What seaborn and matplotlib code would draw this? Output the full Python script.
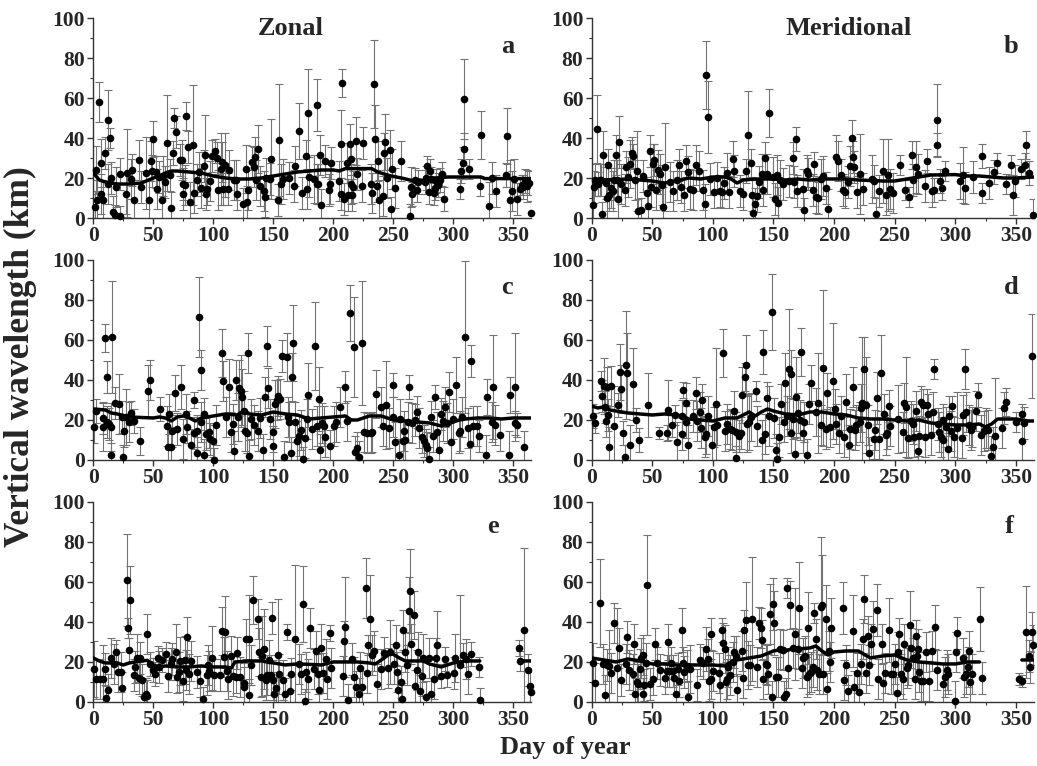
import numpy as np
import pandas as pd
import matplotlib
matplotlib.use('Agg')
import matplotlib.pyplot as plt
from matplotlib.ticker import MultipleLocator
import seaborn as sns

sns.set_style('ticks')
plt.rcParams['font.family'] = ['Liberation Serif', 'DejaVu Serif']
plt.rcParams['font.weight'] = 'bold'

# (day, wavelength km, error km)
zonal_a = [(1,5.5,8),(2,24,12),(3,9,10),(5,58,10),(6,12,10),(6.5,27.5,12),(8,9,10),(10,32.5,8),(12,49,15),(14,40,5),(12.5,17,10),(15,20,8),(16,3,8),(18,1.3,5),(19,15.5,10),(22,22,8),(22.5,1,5),(27,12,10),(28,22.5,22),(31,19.5,10),(32,24,8),(34,9,10),(38,29,10),(40,15.5,8),(44,22.5,18),(46,9,10),(48,28.5,10),(50,39.5,9),(49,23.5,8),(52,23,8),(53,14.7,10),(55,20.5,8),(57,9,10),(58,21,10),(60,18,8),(61,37.5,24),(64,21.3,8),(65,5,8),(66,32.7,6),(67,50,5),(69,43,8),(72,29,8),(74,29,10),(74.5,12,8),(75,17,8),(76,16.3,10),(77,50.8,7),(79,35.5,8),(80.5,8,10),(83,36.7,30),(84,12.7,10),(86,18.8,8),(88,23,10),(90,15,10),(92,26,8),(93,31.3,20),(94,12.2,8),(95,14.7,8),(97,18.3,10),(99,31,8),(101,33.3,6),(103,30,8),(104,14.2,10),(106,24.7,18),(107,28,10),(108,14.7,8),(110,26.7,16),(112,14.7,8),(113,23.8,10),(117,18.8,10),(119,19.2,10),(120,12.2,8),(125,7.2,8),(127,24.3,12),(128,8,8),(128.5,14.2,10),(132,28,8),(134,25.5,10),(135,30.5,10),(137,34.3,12),(135.5,18.8,10),(139,15.8,10),(142,13.3,10),(143,10.5,10),(144,20,10),(147,19.7,8),(148,29.5,20),(154,9.2,8),(155,39,28),(156,16.8,10),(158,19.7,10),(163,20.2,8),(167,15.8,8),(168,26,10),(171,43.3,14),(174,12.5,8),(177,31,8),(178,14.7,10),(179,52.7,22),(180,20.5,10),(184,19.7,12),(186,17.2,10),(186.5,56.3,13),(187,17.2,10),(190,6.3,8),(189,31.7,10),(193,28.5,8),(196,13.8,8),(197,16.8,10),(198,27.5,8),(205,18.3,10),(206,12.2,8),(207,67.7,7),(206.5,36.8,17),(209,9.7,8),(211,27.7,10),(212,11.3,8),
           (214,37,10),(215,29.7,8),(214.5,17,10),(216.7,15.5,8),(215.5,11.3,8),(219,38.3,12),(220,21.8,8),(223.5,15.8,8),(224.4,37.7,8),(231,17.2,10),(232.4,12.7,10),(233.8,67.2,22),(235,39.3,17),(237.3,28.3,10),(236.5,16,8),(238,9.2,10),(241.5,10.8,10),(242.3,32.3,10),(243.4,38,14),(245,20,10),(247,33.8,10),(248,4.3,6),(249.2,24.3,10),(251,15,10),(256.7,28.3,10),(263.5,0.8,6),(265,15.5,10),(265.8,12.2,6),(267.7,19.2,6),(269.6,14.2,6),(270.5,18,6),(276,18,6),(277.4,20.2,6),(278.2,26,5),(279.3,13,6),(280.7,23.3,6),(281.5,19.7,6),(283.7,12.5,6),(285,15,6),(285.6,18.3,6),(287,16.3,6),(289.2,18.8,6),(290.3,22.2,6),(292.5,9.7,6),(305.5,14.7,5),(306.3,23.5,6),(307.7,27.5,8),(308.5,59.7,20),(309,34.7,8),(313,24.7,5),(322.3,15.8,5),(323.4,41.3,12),(329.3,5.8,12),(332.6,20.2,8),(335.3,13.5,8),(343.6,21.3,6),(345,40.8,14),(347.2,8.8,20),(349,13.3,10),(350.5,19.7,10),(352.7,9.3,8),(355.5,14.7,5),(356.8,16.7,5),(358.2,15.5,6),(359.6,18.3,6),(361.5,16,8),(363,17.5,6),(365,2.5,6)]

merid_b = [(1.4,6.7,10),(2,15.5,8),(2.7,18.8,8),(4.7,44.3,17),(5.5,17.2,6),(7,18.8,8),(8,18.8,8),(8.8,1.8,6),(9.6,31.7,12),(11.5,17.7,8),(12.4,10,10),(13.7,26.3,8),(14.6,11.3,8),(15.7,15,10),(17.3,13.3,10),(18.4,19.2,10),(19.8,31.3,10),(20.6,18.8,10),(22,9.7,10),(22.8,38,13),(24,17.2,10),(27.5,13.8,8),(28.3,25.5,8),(30,20.5,10),(31.6,27.2,12),(33,32.5,8),(34.4,31,6),(35.7,18.8,10),(37.7,23.3,20),(38.5,3.5,6),(41,4.2,6),(42.6,20.8,8),(45.4,12.5,8),(46.7,6,8),(48,33.3,8),(48.7,15.5,10),(50.3,26.8,10),(51.4,29.2,8),(53,13.8,10),(55,24.2,10),(56.4,21.8,10),(57.7,16.3,10),(59,5.5,10),(60.5,25.5,22),(64.6,18,10),(66.8,13.5,10),(70,18.8,10),(72.3,26.7,8),(73.4,15.5,8),(76.4,11.3,8),(77.8,28.3,8),(79.7,23,8),(81,14.7,10),(83.9,13.8,10),(86,26.3,10),(88.5,23.3,10),(91.6,13.8,10),(93.5,7.2,10),(94.3,71.3,17),(95.7,50.5,18),(97.6,19.7,8),(101,13,8),(103,20.2,8),(105.9,13.3,8),(107.8,13,8),(109.4,17.7,8),(111.4,22.7,10),(113.6,13,8),(116.9,29.7,9),(117.7,23.3,8),(122.4,13.5,8),(124.6,11.8,8),(127.3,23.5,6),(129.2,41.3,22),(131.4,27.5,7),(132.5,11.7,8),(133.4,2.5,8),(134.7,7.2,8),(136.7,10.8,8),(138.3,18,8),(140.2,22.2,10),(141.6,13.8,8),(143,30,8),(144.9,21.8,10),(146.5,52.5,12),(149.8,20.5,10),(151.2,9.7,8),(152.6,21.3,10),(154,7.5,8),(155.3,18.8,10),(157.5,17.2,8),(163,18.3,8),(165.8,30,8),(166.9,18,8),(168.5,39.7,6),(169.6,13.5,8),(174,14.7,10),(175.4,3.8,6),(177.3,23.5,8),(178.7,21.8,8),(182.8,14.2,8),(183.7,26.8,6),(185,10.5,8),(187,10.2,8),(189.2,19.7,10),(191.1,21,10),(193.3,15,8),(195.2,4.3,10),(202,30.5,11),(203.5,28.3,10),(205.4,21.3,8),(207.6,14.2,8),(209,13,8),(211.7,18,8),(213,26,10),(215,40,9),(215.8,30.5,8),(216.7,25.5,8),(218.6,13,8),(221.3,21.8,20),(223.5,14.7,8),(231,19.7,12),(232.9,18.3,8),(235,2.2,8),(237.3,13.3,8),(240.6,23.3,16),(242.8,11.7,10),(244.2,21.3,18),(246,14.7,10),(248.8,12.7,10),(254.3,26.7,5),(258.5,13.8,5),(262,10.5,5),(264,31.3,7),(264.8,18.8,8),(268,25.5,13),(269.5,21.8,10),(275,15.8,8),(276.9,28.5,6),(280.5,13.3,8),(282.4,13.8,6),(284.6,36.7,6),(285.2,48.8,18),(287.4,18.3,6),(288.7,15,6),(291.5,23.3,5),(303.8,18.3,9),(306,21.7,14),(308,15.2,8),(314.3,20.5,8),(321.7,12.5,5),(322.5,31,6),(328,17.5,8),(331.9,23,6),(334.6,27.5,5),(342.3,17.2,5),(346.4,26.3,5),(347.7,11.7,10),(349.6,18.3,8),(354.5,24.3,5),(357.3,26.7,6),(358.6,36.7,7),(360.8,22.7,6),(364.3,1.7,8)]

zonal_c = [(0.5,16.7,8),(2,24.7,6),(8,21,8),(8.4,16.3,12),(9.8,60.8,7),(11,18.8,8),(11.8,41.7,8),(13.4,18,8),(14.6,16.3,12),(15.4,61.7,28),(14.8,2.7,6),(18.2,28.5,8),(21,28,15),(23.8,21.3,8),(24.6,1.7,6),(25.8,14.7,8),(27.5,21.7,14),(29.4,18.8,10),(31.7,23.3,6),(34.2,19.7,6),(39.2,9.7,7),(45.4,34.3,13),(47.6,40.2,10),(55.5,25.5,6),(61,17.2,10),(62.5,6.3,10),(63,23,10),(65,6.3,10),(65.8,14.7,8),(68,33.3,9),(70,15.5,8),(72.8,36.7,11),(75,10.5,10),(77,23,10),(78.4,16.7,8),(81.2,7.7,8),(83.5,30,4),(84,13.3,8),(86,3.5,8),(86.8,14.7,8),(88.2,71.7,20),(89.6,18.8,10),(89.6,45,10),(92,23,8),(92.4,2.5,8),(93.8,13,8),(96.6,14.2,8),(97.5,10.5,8),(99.4,9.7,8),(100.8,0.2,6),(102.5,17.7,10),(107,53.3,12),(107.8,39.7,10),(110.6,21.3,10),(113.4,36.3,14),(114.8,13.8,10),(116.2,18,10),(117.6,4.3,10),(118.5,40,10),(120.4,21.3,12),(121.8,36,14),(123.2,34.7,18),(123.8,31.3,14),(125.2,24.3,10),(126.6,14.7,10),(128,13.3,10),(128.8,53.5,10),(129.7,2.2,8),(131.7,20.5,10),(133.9,17.5,10),(137.3,14.7,10),(138.7,20.8,10),(141.5,5,8),(142.9,31.7,10),(145.1,57.2,10),(145.7,36,10),(147,20.5,10),(149.3,13.8,10),(150.1,7.2,10),(151.3,28,12),(152.7,30,10),(154,32.2,10),(155.5,30.5,10),(157.4,52.2,8),(159,1.3,8),(161,51.3,12),(162,21.3,10),(163.3,18.8,10),(164.7,3.3,8),(165.3,41.7,12),(166,58.3,19),(168,18.8,10),(169.5,9.3,10),(171.4,12.2,10),(173,15,10),(175,0.5,6),(176.5,11,10),(178,20.5,10),(178.7,32.5,16),(182,15.5,10),(185,57.2,22),(186.3,17.2,10),(187.7,30.5,16),(189,5,8),(190.5,18.3,10),(191.9,17.2,10),(193.3,11.3,10),(197.5,7.2,8),(200.3,17.2,10),(202.2,18.8,10),(205.3,26.3,10),(209.5,36.7,8),(211.5,19.7,10),(213.7,73.3,14),(217,56.7,25),(218,4.2,8),(220,6,8),(221.3,1.7,8),(224,58.3,31),(225.5,13.8,10),(228.3,13.3,10),(231,13.3,10),(232.5,13.8,10),(235.8,33,12),(239.5,26.3,10),(241,17.2,10),(243.7,27.5,22),(246,15.8,10),(249.3,21.3,10),(250,37.7,6),(251.5,8.8,10),(254.3,2.7,8),(255.7,20.5,10),(257.7,9.7,10),(259,14.7,10),(260,10,10),(262,18.8,10),(263.3,36.3,6),(265.5,18.3,10),(268.3,20,8),(269.5,23.8,8),(271.7,15.8,10),(274,11.7,8),(275.4,9.7,8),(276.8,7.5,8),(278.2,6,8),(280,0.5,6),(281.5,21.7,8),(282.9,12.2,8),(285,31.3,6),(286.6,14.2,10),(288,5,10),(290,23,8),(291.3,19.7,10),(292.7,26.3,10),(294.7,18.3,10),(296.4,34.2,10),(297.8,8.8,10),(299.7,20.5,10),(302.5,37.5,14),(304.8,13.3,10),(305.9,14.3,10),(307.6,21.3,10),(309.5,61.7,38),(312.3,15.8,10),(313.7,8,8),(315.1,49.7,8),(316.5,17.2,10),(319.3,17.2,10),(321.6,12.2,8),(327.2,2.7,10),(327.7,31.7,9),(331.9,18.8,10),(332.8,36.3,26),(334.7,17.5,10),(339,12.5,8),(346,2.7,12),(347.5,32.5,9),(351,36.3,27),(351.5,18.3,6),(353,17.5,6),(358.5,6.7,8)]

merid_d = [(0.8,21.8,6),(2.7,18.3,5),(7.7,39.3,5),(8.8,32.2,8),(10.2,36.8,14),(11,26.3,8),(11.8,19.7,8),(12.9,36.3,10),(13.7,22.7,8),(14.5,6.3,10),(15.6,36.8,10),(18.7,17.2,20),(21.4,27.5,6),(23.3,44.2,14),(24.2,35.5,12),(25.5,13.5,6),(27.4,1.3,6),(28.3,47.7,27),(29.4,43.3,20),(31.6,7.7,10),(33.8,38,18),(36.5,20,6),(39.3,10.2,6),(46.7,27.5,16),(55.7,13.5,3),(61.8,13.5,4),(63.1,25,15),(65.9,17.7,6),(68.6,22.7,5),(70.5,9.2,10),(74.1,21.8,8),(74.7,13,8),(75.5,35,4),(77.7,28.3,10),(77.7,18.8,8),(79.6,7.7,10),(83.7,22.2,8),(85.9,33.5,8),(87,19.7,10),(89.2,23.8,10),(90.6,15.8,10),(91.4,30.2,8),(93.3,11.3,10),(94.7,13,10),(96,21.8,10),(99.6,7.7,10),(101,16.3,10),(102.4,28,28),(103.8,17.7,10),(108.4,53.3,12),(109.8,14.3,10),(112,18,10),(113.9,15.5,10),(116.1,15,10),(117.5,24.7,10),(118.9,13.8,10),(119.4,1,6),(121.6,12.2,8),(123,13.3,8),(124.4,32.7,14),(126.3,41.7,7),(127.6,47.7,15),(128.5,18,14),(129.8,18.8,14),(131.2,21.3,12),(135.3,34.7,5),(136.4,17.2,10),(140.8,10.2,10),(141.4,54.2,11),(143.3,13,10),(144.7,31,8),(146.3,21.8,15),(149,74.2,19),(150.2,20.8,10),(151.8,5,8),(153.2,0.5,8),(154.5,11.7,10),(155.9,28,10),(158.7,18.8,10),(159.8,38.3,15),(161.1,21.8,10),(162.8,45.5,30),(164.1,13.5,10),(164.7,43,12),(166.1,20.5,10),(167.4,3,8),(168.8,31.3,20),(170.2,23.5,10),(171.5,20,10),(172.4,53.8,12),(174.3,13.5,10),(175.1,18.8,10),(177.6,2.5,8),(179.3,28,10),(181.2,38.3,9),(185.3,24.2,12),(186.7,28.5,25),(188.9,17.5,10),(190.8,45.8,39),(193,15.5,10),(194.1,33.3,10),(196.3,16.3,10),(199,39.3,29),(200.4,25.5,10),(201.8,18,10),(204,13.3,10),(205.9,21.8,10),(208.1,11.7,10),(210,28.8,14),(212.7,7.7,10),(213.5,15.5,10),(216,36.7,10),(217.4,15,10),(218.2,17.5,10),(221,18.8,10),(222.3,25.8,12),(223.2,28.5,33),(224.3,45.5,16),(226.5,27.7,24),(227.8,17.5,10),(229.2,3.5,8),(232.8,10.5,10),(234.1,15.2,10),(235.2,31,13),(236.9,10.5,10),(238.8,43.3,19),(241.6,23,10),(242.9,12.5,10),(243.7,13.3,8),(245.1,26.8,8),(246.5,17.2,10),(252.5,20.5,17),(256.7,13.8,10),(258,28.3,10),(259.4,26.3,25),(260.8,11,10),(263.5,19.7,10),(264.9,18,10),(266.2,11.3,10),(267.6,24.7,10),(269,4.3,8),(269.8,12.2,10),(271.7,28.8,8),(273.7,27.7,8),(275.3,11.3,10),(276.4,27.7,8),(277.2,23,10),(280,12.7,10),(281.3,23.8,10),(282.2,45.5,5),(285.4,18,8),(286.8,13.8,10),(288.2,11.3,10),(289.5,20,8),(290.3,10,10),(292.3,16.3,10),(293.7,5.5,8),(295,22.2,10),(296.4,14.7,10),(297.7,27.2,5),(299.1,11.7,10),(301.8,16,18),(305.9,11,10),(306.8,22.7,10),(307.9,45.5,10),(308.7,23.8,10),(311.5,17.7,10),(312.8,15,10),(314.2,16.7,10),(316.9,24.3,10),(319.1,32.5,6),(321,12.5,10),(323.4,14.7,10),(325.3,16,10),(327.4,15.2,10),(329.3,2.2,10),(330.8,6.3,10),(332.9,12.2,29),(339,16,10),(340.3,26,8),(341.7,28.8,7),(349.9,18.8,5),(354.9,23,5),(355.4,9.7,10),(356.8,18.3,8),(363.7,52.2,21)]

zonal_e = [(0.6,16.3,14),(2.3,11.3,10),(5.7,11.3,10),(7.7,11.3,17),(9.4,16.7,8),(10.8,2,6),(12.2,5.8,8),(15.1,22,10),(17,19.2,10),(19,25,6),(20.8,15,10),(23.3,15,10),(24.2,7.2,8),(27.9,61.2,23),(29,37,5),(30.7,50.8,17),(29.9,26.2,6),(33.6,13.3,8),(35,17.5,8),(36.1,22,12),(37.8,12,8),(39.3,22,8),(40.4,11.2,8),(42.1,2.5,8),(43.5,3.8,8),(44.7,2.8,8),(45,33.8,10),(47.5,19.2,6),(49.8,15.8,6),(51.2,14.2,6),(53.5,22,6),(54.9,17.5,8),(57.5,20.8,6),(60.6,23.8,6),(62.6,12.8,8),(64.6,19.2,8),(65.5,21.7,8),(68.9,25,14),(69.7,12.5,8),(71.1,15,10),(72.6,20.5,12),(74.6,10.5,10),(76,20.8,12),(77.4,15.8,10),(78.3,32.5,10),(79.7,13.8,10),(81.1,20.5,10),(86.8,15,8),(89.1,10.3,8),(91.1,1.7,6),(94.5,13.3,10),(95.9,18.7,10),(96.7,15.3,10),(99,22.2,16),(100.2,13.3,8),(105.3,13.7,8),(107.6,35.5,12),(109.6,35,18),(108.7,22.5,10),(111,15.3,10),(112.4,11.3,10),(114.4,22.8,10),(116.1,13,10),(119,12.5,8),(120.1,24.7,8),(122.4,12.5,10),(125.2,9.5,10),(125.8,7.5,10),(127.5,31.7,10),(129.5,31.7,22),(130,3.3,8),(131.5,18.3,10),(133.2,50.8,12),(137.2,41.3,10),(138,25,12),(139.4,12.5,10),(140.9,22.8,20),(142.3,26.7,20),(143.7,11.2,10),(145.1,13.3,10),(146.6,20.8,10),(148,13.7,10),(148.8,42,8),(150,11.2,10),(150.8,3.8,8),(152.2,7.2,8),(153.7,23.3,28),(155.1,13.8,10),(157.9,11.2,10),(159.3,3.8,8),(161.6,35,4),(163.6,5.3,8),(164.5,14.2,8),(167.9,31.7,37),(171.6,19.2,10),(173,14.2,10),(175,48.8,19),(176.4,0.5,6),(177.3,15,10),(178.7,11.3,10),(180.7,37.2,10),(183.5,16.7,10),(185.5,25.3,10),(187.3,13.8,10),(188.4,6.2,8),(189.8,27.2,12),(191.5,14.5,10),(193.5,21.7,10),(194.9,11.7,10),(196.9,34.7,4),(197.7,17,10),(207.7,13,10),(209.1,30.3,10),(210,37.5,25),(212,1.2,8),(215.7,21.3,8),(216.8,12.5,10),(219.1,7.5,8),(221.1,4.2,8),(222.5,17.2,8),(224,7.5,8),(227.1,57,15),(228.2,14.5,10),(229.1,28.7,5),(230.5,41.3,22),(231.9,23.7,10),(234.2,25.3,10),(236.2,9.2,10),(239.6,16.7,10),(241.9,24.7,8),(245.3,17.2,10),(247.6,25,16),(250.4,19.2,10),(251.8,28.7,10),(252.7,15,10),(254.1,5.8,8),(256.1,10,8),(257,1.7,8),(258.4,36.2,10),(259.8,25,10),(261.2,18.3,10),(263.2,45.3,17),(264.1,55.3,21),(264.6,29.2,10),(266.9,43.3,12),(268.3,8,8),(269.5,15.8,10),(270.9,25,10),(272.6,5.3,8),(273.7,13,10),(275.1,22.2,12),(276.9,2.5,8),(279.4,22.2,10),(281.1,4.2,8),(284,11.7,10),(285.4,22,10),(286,28.3,17),(289.7,13,6),(293.1,21.7,6),(294.5,13.3,6),(300.2,14.7,8),(301.6,22.2,12),(305.9,18.3,35),(307.9,23.3,6),(310.2,21.7,10),(312.4,14.2,10),(314.4,23.8,6),(321,17.5,5),(322.4,1.2,6),(354.4,27.2,4),(355.7,20.5,5),(358.7,36.2,41),(362.4,15.8,8),(363.5,7.8,8),(364.9,5,10)]

merid_f = [(0.8,19.5,10),(2.7,9.5,10),(6.9,49.7,22),(9.1,19.2,10),(11,3.3,10),(12.9,18.7,8),(14.6,17.8,18),(15.7,14.7,10),(18.7,39.5,10),(21.2,17.2,30),(22.5,27.2,10),(23.9,10.8,8),(28.3,19.2,10),(28.9,32.5,8),(30.8,15.8,10),(33.8,14.2,10),(34.9,28.8,10),(35.7,3.8,8),(37.7,10,10),(38.5,9.2,10),(39.9,16.3,10),(40.7,22.2,10),(42.1,23.3,10),(42.6,3.8,8),(43.2,8.3,8),(44.8,19.7,10),(45.9,58.7,25),(48.1,9.2,8),(50.3,11.3,8),(52.2,28.8,8),(53.6,19.5,8),(56.4,16.2,8),(60.5,12,8),(61.9,15.5,8),(63.2,30,9),(64.1,15.5,8),(65.2,19.7,8),(66.8,15.5,8),(68.2,12,8),(69.6,4.2,8),(70.9,16.7,8),(72.3,10.3,8),(74.2,36.2,11),(75.1,19.5,8),(76.4,15,8),(78.4,17.8,8),(79.7,2.5,8),(81.1,16.7,12),(86.6,8.3,8),(89.4,20.8,8),(91.6,19.7,8),(94.3,26.7,11),(95.7,21.3,10),(97.1,10.5,10),(98.4,33.8,8),(98.4,11.3,10),(99.8,15.5,10),(105,14.5,10),(105.9,8.3,10),(107.2,36.2,6),(108.6,29.5,10),(110,26.7,12),(110.5,10,10),(111.9,11.7,10),(112.7,17.5,10),(114.1,13.7,10),(116.3,20,10),(117.7,25,8),(119.1,23,10),(119.6,5.8,8),(123.7,25.5,10),(124.6,12.2,10),(125.9,36.2,10),(127.3,40.8,19),(128.7,18.3,12),(130.6,18.3,10),(132,41.3,31),(136.7,17.5,10),(138.3,39.3,8),(139.4,36.8,10),(140.8,30.8,10),(141.6,11.7,10),(143.5,19.2,10),(144.9,18.3,10),(145.7,13.8,10),(147.1,44.2,15),(148.5,2.5,8),(149.3,48.8,13),(150.7,39.7,16),(151.8,12.5,10),(154,12.5,10),(155.3,26.7,10),(157.5,26.2,10),(158.6,2.5,8),(160,3.8,8),(161.4,57,5),(162.2,17,10),(163.6,48.3,12),(165.8,26.8,10),(167.7,33.8,23),(170.5,26.7,10),(171.3,47.2,23),(173.2,17,10),(174.6,22,10),(176,23,10),(177.3,12.5,10),(178.2,36.8,18),(179.6,13.8,10),(180.9,15,10),(182.8,17.5,10),(183.4,44.5,5),(185,31.7,10),(185.6,15.8,10),(187.8,14.2,10),(189.2,47.5,35),(189.7,48.7,25),(191.1,14.2,10),(193.3,41.7,17),(194.4,6.7,8),(196,25.5,10),(196.6,20,10),(197.4,36.8,15),(207,47.2,13),(208.4,11.2,10),(209.5,18.3,10),(211.7,5.5,8),(215.3,35.3,18),(216.7,7.5,8),(218.6,14.7,10),(220.8,5,8),(222.2,18.8,10),(223.5,31.3,10),(224.6,51.3,12),(226.3,14.7,10),(227.7,33,10),(229,18.3,10),(230.4,28.8,10),(232.3,36.3,14),(235.6,45.8,13),(236.5,11.7,10),(239.8,28.8,10),(240.6,9.5,10),(241.9,14.5,10),(245.5,36.2,16),(246.9,13.8,10),(248.8,13.8,10),(250.2,19.2,10),(251.6,4.5,8),(252.5,25,10),(253.5,34.2,8),(255.2,13.8,10),(256.5,11.7,10),(257.6,29.2,10),(259.8,17,10),(261.2,18.7,10),(262.6,38.3,17),(263.9,27.2,10),(265.3,22.2,10),(266.6,11.7,10),(267.5,32.8,8),(268.6,23,10),(269.4,26.3,10),(270.3,15,10),(271.6,10.5,10),(273.6,10.5,10),(275.8,25,10),(278.5,10.5,10),(280.5,25.3,10),(283.2,37.7,11),(284.6,16.2,10),(289.5,9.2,10),(291.5,12.5,10),(292.8,15.8,10),(294.2,13.8,10),(299.7,0.5,10),(300.5,25,10),(301.6,34.5,8),(306,22,10),(307.4,12.5,10),(309.3,14.2,10),(310.7,17.5,10),(311.5,25.5,10),(312.1,10,10),(313.5,14.2,10),(320.3,41.3,16),(321.7,12.2,8),(352.8,11.7,3),(354.7,10.5,3),(358.3,35,23),(361,23,8),(362.1,17.5,8),(363.5,35,10),(364.3,28.3,10)]

# running means (nan = gap in coverage)
mean_a_day = [0,5,10,20,30,40,50,55,60,65,70,80,90,100,110,120,130,140,150,160,170,180,190,200,205,210,232,237,246,259,265,276,281,295,323,326,365]
mean_a = [22.5,19,18,17,17,17.5,20,21,22.5,23.5,23.5,23,22.5,21,20,19.5,19.5,20,21,22,23,23.5,24,24,23.5,24.7,24.7,23,21.3,19.7,18.8,18.8,19.7,20.5,20.5,19.7,19.7]
mean_b_day = [0,10,30,50,60,70,80,90,100,110,115,120,125,135,150,160,170,180,190,210,220,240,250,260,270,280,300,310,320,330,340,350,365]
mean_b = [18,19,19.5,18.5,17.5,18.5,20,19.5,20.5,20.5,19.5,17.5,19,19.5,19.5,19,19.5,19,19.5,19.5,19,18.5,18.5,19.5,20.5,21.5,21.7,21,21,20.5,20,20,20.5]
mean_c_day = [0,10,15,20,30,50,55,60,65,70,75,80,85,90,100,110,120,125,130,140,150,155,160,170,180,190,200,210,215,220,230,240,250,260,270,280,290,300,305,310,320,330,340,350,365]
mean_c = [25.5,25,23.5,23,21.5,21,21.5,21,19.5,21.5,22,21,19.5,21,22,23,22.5,24.5,23,22.5,24,23.5,23,22.5,20.5,21,21.5,22,20,20,22,22,20,19.5,19,18.5,17,19,20,20.5,21,21,20.5,21,21]
mean_d_day = [0,5,10,15,20,30,40,50,60,70,75,80,90,100,110,120,130,135,140,145,150,160,170,180,190,200,210,220,230,240,250,260,270,280,290,300,310,320,325,330,335,350,360,365]
mean_d = [27,26,26.5,25,24.5,23.5,23,22.5,23,22.5,22,20.5,20,19.5,21,21,24,22,24,25.5,24.5,23,22.5,24,24,23,22.5,21,20.5,20.5,20,19.5,20,18.5,18,17.5,17.5,18,16.5,18,20.5,20.5,19.5,19.5]
mean_e_day = [0,5,10,20,25,30,40,45,50,55,60,70,80,90,100,110,115,118,130,140,150,160,170,180,190,200,210,220,230,235,240,248,255,260,270,275,280,290,300,310,322,338,355,365]
mean_e = [22,20.5,19.5,19.5,18.5,19.5,20.5,20.8,18.5,17.5,18,17.5,17.5,18,17.5,17.5,17,20,20.5,20.5,19.5,18.5,19,18.8,18.5,20,20,20,19.5,19,21,24.5,22,20.5,20.5,20.5,19,17.5,19.5,20.5,20.5,np.nan,20.5,20.5]
mean_f_day = [0,10,20,30,35,40,50,60,70,80,90,100,110,115,120,130,140,150,155,160,165,170,180,185,190,195,200,210,220,230,240,250,260,270,280,290,300,310,320,338,355,365]
mean_f = [22,21,20,21.5,21,20.5,19,19,18.5,18.5,18.5,18.5,18,20,21,22,23,25.5,26,25.5,26.5,26.5,27,28,25.5,23.5,25,25.5,25.5,22,23,23.5,21,20,19.5,19,19,20,20,np.nan,21,21]

panels = [
    ('a', zonal_a, mean_a_day, mean_a),
    ('b', merid_b, mean_b_day, mean_b),
    ('c', zonal_c, mean_c_day, mean_c),
    ('d', merid_d, mean_d_day, mean_d),
    ('e', zonal_e, mean_e_day, mean_e),
    ('f', merid_f, mean_f_day, mean_f),
]

fig = plt.figure(figsize=(10.37, 7.66), dpi=100)

lefts = [0.0900, 0.5706]
widths = [0.4224, 0.4265]
bottoms = [0.7154, 0.3995, 0.0836]
height = 0.2611
letter_pos = {'a': (0.945, 0.86), 'b': (0.948, 0.86), 'c': (0.945, 0.86),
              'd': (0.948, 0.86), 'e': (0.912, 0.875), 'f': (0.945, 0.875)}

for i, (letter, pts, mday, mval) in enumerate(panels):
    row, col = divmod(i, 2)
    ax = fig.add_axes([lefts[col], bottoms[row], widths[col], height])
    df = pd.DataFrame(pts, columns=['day', 'wl', 'err'])

    ax.errorbar(df['day'], df['wl'], yerr=df['err'], fmt='none',
                ecolor='#737373', elinewidth=0.8, capsize=2.6, capthick=0.8, zorder=1)
    sns.scatterplot(data=df, x='day', y='wl', ax=ax, color='black', s=30,
                    linewidth=0, zorder=3, clip_on=False)
    ax.plot(mday, mval, color='black', lw=2.5, zorder=4)

    ax.set_xlim(0, 365)
    ax.set_ylim(0, 100)
    ax.xaxis.set_major_locator(MultipleLocator(50))
    ax.xaxis.set_minor_locator(MultipleLocator(25))
    ax.yaxis.set_major_locator(MultipleLocator(20))
    ax.yaxis.set_minor_locator(MultipleLocator(10))
    ax.tick_params(axis='both', which='major', direction='out', length=4,
                   width=1, labelsize=15.5, pad=2, color='#333333')
    ax.tick_params(axis='both', which='minor', direction='out', length=2.5,
                   width=0.8, color='#333333')
    for lab in ax.get_xticklabels() + ax.get_yticklabels():
        lab.set_fontweight('bold')
    sns.despine(ax=ax)
    for s in ['left', 'bottom']:
        ax.spines[s].set_linewidth(1.0)
        ax.spines[s].set_color('#333333')
    ax.set_xlabel('')
    ax.set_ylabel('')
    lx, ly = letter_pos[letter]
    ax.text(lx, ly, letter, transform=ax.transAxes, fontsize=19,
            fontweight='bold', ha='center', va='center')
    if letter == 'a':
        ax.text(0.45, 0.95, 'Zonal', transform=ax.transAxes, fontsize=19,
                fontweight='bold', ha='center', va='center')
    if letter == 'b':
        ax.text(0.58, 0.95, 'Meridional', transform=ax.transAxes, fontsize=19,
                fontweight='bold', ha='center', va='center')

fig.text(0.02, 0.535, 'Vertical wavelength (km)', rotation=90, fontsize=25.5,
         fontweight='bold', ha='center', va='center')
fig.text(0.545, 0.024, 'Day of year', fontsize=19, fontweight='bold',
         ha='center', va='center')

fig.savefig('out.png', dpi=100)
